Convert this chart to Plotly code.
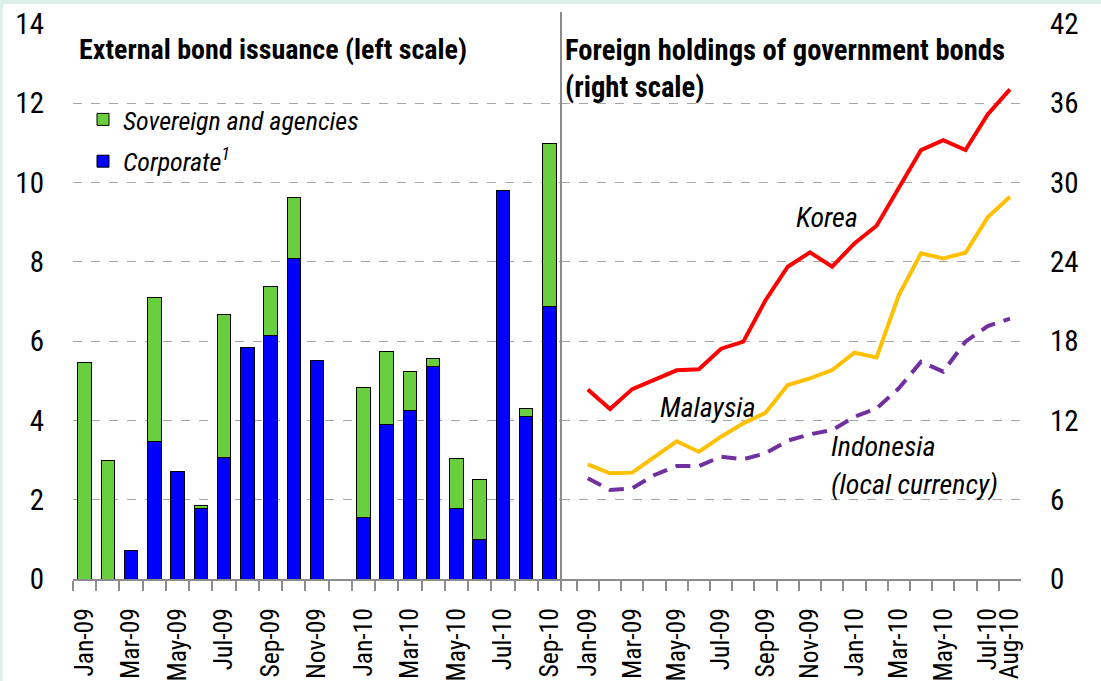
import plotly.graph_objects as go

# ---------------- data ----------------
bar_months = ["Jan-09", "Feb-09", "Mar-09", "Apr-09", "May-09", "Jun-09", "Jul-09",
              "Aug-09", "Sep-09", "Oct-09", "Nov-09", "Dec-09", "Jan-10", "Feb-10",
              "Mar-10", "Apr-10", "May-10", "Jun-10", "Jul-10", "Aug-10", "Sep-10"]
corporate = [None, None, 0.71, 3.48, 2.72, 1.78, 3.07, 5.84, 6.14, 8.09, 5.52, None,
             1.55, 3.91, 4.24, 5.35, 1.78, 0.99, 9.79, 4.09, 6.87]
sovereign = [5.46, 2.98, None, 3.62, None, 0.07, 3.59, None, 1.25, 1.54, None, None,
             3.27, 1.84, 0.99, 0.20, 1.26, 1.52, None, 0.21, 4.12]
bar_tick_labels = ["Jan-09", "", "Mar-09", "", "May-09", "", "Jul-09", "", "Sep-09", "",
                   "Nov-09", "", "Jan-10", "", "Mar-10", "", "May-10", "", "Jul-10", "",
                   "Sep-10"]

line_months = ["Jan-09", "Feb-09", "Mar-09", "Apr-09", "May-09", "Jun-09", "Jul-09",
               "Aug-09", "Sep-09", "Oct-09", "Nov-09", "Dec-09", "Jan-10", "Feb-10",
               "Mar-10", "Apr-10", "May-10", "Jun-10", "Jul-10", "Aug-10"]
korea = [14.35, 12.86, 14.37, 15.1, 15.79, 15.87, 17.43, 17.96, 21.1, 23.63, 24.72,
         23.63, 25.4, 26.73, 29.6, 32.46, 33.2, 32.46, 35.16, 37.05]
malaysia = [8.68, 8.0, 8.05, 9.26, 10.42, 9.63, 10.77, 11.78, 12.58, 14.68, 15.18,
            15.81, 17.12, 16.77, 21.49, 24.64, 24.26, 24.69, 27.37, 28.93]
indonesia = [7.62, 6.73, 6.86, 7.87, 8.55, 8.55, 9.26, 9.06, 9.51, 10.47, 10.95,
             11.27, 12.28, 12.91, 14.43, 16.44, 15.69, 17.96, 19.14, 19.7]
line_tick_labels = ["Jan-09", "", "Mar-09", "", "May-09", "", "Jul-09", "", "Sep-09", "",
                    "Nov-09", "", "Jan-10", "", "Mar-10", "", "May-10", "", "Jul-10",
                    "Aug-10"]

# ---------------- style ----------------
FONT = "Roboto Condensed, Liberation Sans, Arial, sans-serif"
GREEN = "#6ACF3E"
BLUE = "#0000FF"
GRAY = "#8C8C8C"
GRID = "#A6A6A6"
MINT = "#DCEFE8"

W, H = 1101, 681
L, R, T, B = 73, 80, 24, 102
PW, PH = W - L - R, H - T - B
SPLIT = 561


def px(x):
    return (x - L) / PW


def py(y):
    return (H - B - y) / PH


fig = go.Figure()

fig.add_trace(go.Bar(x=bar_months, y=corporate, name="Corporate<sup>1</sup>",
                     legendgroup="corp", legendrank=2,
                     marker=dict(color=BLUE, line=dict(color="black", width=1)),
                     xaxis="x", yaxis="y"))
fig.add_trace(go.Bar(x=bar_months, y=sovereign, name="Sovereign and agencies",
                     legendgroup="sov", legendrank=1,
                     marker=dict(color=GREEN, line=dict(color="black", width=1)),
                     xaxis="x", yaxis="y"))

fig.add_trace(go.Scatter(x=line_months, y=korea, mode="lines", name="Korea",
                         line=dict(color="#FF0000", width=4), showlegend=False,
                         xaxis="x2", yaxis="y2"))
fig.add_trace(go.Scatter(x=line_months, y=malaysia, mode="lines", name="Malaysia",
                         line=dict(color="#FFC000", width=4), showlegend=False,
                         xaxis="x2", yaxis="y2"))
fig.add_trace(go.Scatter(x=line_months, y=indonesia, mode="lines",
                         name="Indonesia (local currency)",
                         line=dict(color="#7030A0", width=4, dash="15px,9px"),
                         showlegend=False, xaxis="x2", yaxis="y2"))

split = px(SPLIT)

xcommon = dict(type="category", showline=True, linecolor=GRAY, linewidth=2,
               ticks="outside", ticklen=10, tickcolor=GRAY, tickwidth=2,
               tickson="boundaries", showgrid=False, tickangle=-90,
               ticklabelstandoff=17, automargin=False,
               tickfont=dict(family=FONT, size=25.5, color="black"),
               tickmode="array", fixedrange=True)

fig.update_layout(
    width=W, height=H,
    margin=dict(l=L, r=R, t=T, b=B, autoexpand=False),
    paper_bgcolor=MINT,
    plot_bgcolor="rgba(0,0,0,0)",
    barmode="stack",
    bargap=0.42,
    font=dict(family=FONT, size=28, color="black"),
    xaxis=dict(domain=[0, split], categoryorder="array", categoryarray=bar_months,
               range=[-0.5, 20.5], tickvals=bar_months, ticktext=bar_tick_labels,
               **xcommon),
    xaxis2=dict(domain=[split, 1], anchor="y2", categoryorder="array",
                categoryarray=line_months, range=[-1.207, 19.5],
                tickvals=line_months, ticktext=line_tick_labels, **xcommon),
    yaxis=dict(range=[0, 14], dtick=2, tick0=0, showgrid=True, gridcolor=GRID,
               griddash="dash", gridwidth=1, zeroline=False, showline=False,
               ticks="", ticklabelstandoff=28, automargin=False,
               tickfont=dict(family=FONT, size=29, color="black"), fixedrange=True),
    yaxis2=dict(range=[0, 42], dtick=6, tick0=0, side="right", anchor="x2",
                showgrid=True, gridcolor=GRID, griddash="dash", gridwidth=1,
                zeroline=False, showline=False, ticks="", ticklabelstandoff=28,
                automargin=False,
                tickfont=dict(family=FONT, size=29, color="black"), fixedrange=True),
    legend=dict(x=px(83), y=py(96), xanchor="left", yanchor="top",
                bgcolor="rgba(0,0,0,0)", traceorder="grouped",
                font=dict(family=FONT, size=26, color="black", style="italic"),
                itemwidth=30, tracegroupgap=5),
    showlegend=True,
)

# white page with a thin mint strip on top and left
fig.add_shape(type="rect", xref="paper", yref="paper", layer="below",
              x0=px(3), x1=px(W + 5), y0=py(H + 5), y1=py(4),
              fillcolor="white", line=dict(width=0))
# divider between the two panels
fig.add_shape(type="line", xref="paper", yref="paper",
              x0=split, x1=split, y0=0, y1=py(12),
              line=dict(color=GRAY, width=2))

ann = []
ann.append(dict(text="<b>External bond issuance (left scale)</b>", x=px(77), y=py(50),
                xanchor="left", yanchor="middle", font=dict(size=28)))
ann.append(dict(text="<b>Foreign holdings of government bonds</b>", x=px(563), y=py(50),
                xanchor="left", yanchor="middle", font=dict(size=28.6)))
ann.append(dict(text="<b>(right scale)</b>", x=px(563), y=py(87),
                xanchor="left", yanchor="middle", font=dict(size=28.6)))
ann.append(dict(text="<i>Korea</i>", x=px(794), y=py(217),
                xanchor="left", yanchor="middle", font=dict(size=28)))
ann.append(dict(text="<i>Malaysia</i>", x=px(658), y=py(407),
                xanchor="left", yanchor="middle", font=dict(size=28)))
ann.append(dict(text="<i>Indonesia</i>", x=px(829), y=py(446),
                xanchor="left", yanchor="middle", font=dict(size=28)))
ann.append(dict(text="<i>(local currency)</i>", x=px(829), y=py(484),
                xanchor="left", yanchor="middle", font=dict(size=28)))
for a in ann:
    a.update(xref="paper", yref="paper", showarrow=False)
    a["font"].update(family=FONT, color="black")
fig.update_layout(annotations=ann)

page_js = ("document.body.style.margin='0';"
           "document.body.style.overflow='hidden';"
           "document.body.style.background='" + MINT + "';")
fig.write_html("out.html", post_script=page_js,
               config={"displayModeBar": False})
